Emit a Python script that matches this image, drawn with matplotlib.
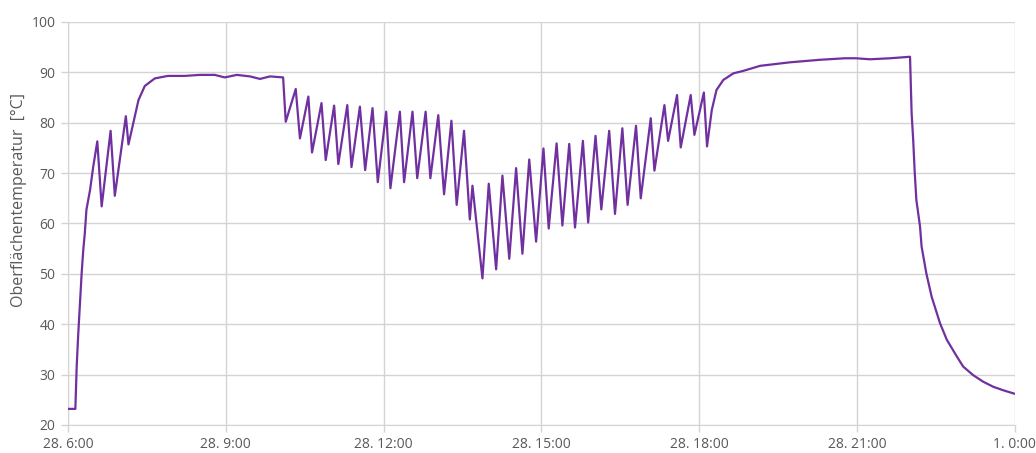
import matplotlib
matplotlib.use("Agg")
import matplotlib.pyplot as plt

# time in hours since 28. 0:00 (24 = 1. 0:00)
times = [
    6.00, 6.14, 6.165, 6.196, 6.26, 6.29, 6.32, 6.35, 6.42, 6.48, 6.557,
    6.64, 6.81, 6.89, 7.10, 7.15,
    7.34, 7.46, 7.65, 7.90, 8.22, 8.51, 8.79, 8.98, 9.21, 9.46, 9.65, 9.84, 10.09,
    10.14, 10.33, 10.41, 10.57, 10.64, 10.82, 10.90, 11.06, 11.14, 11.31, 11.39,
    11.55, 11.65, 11.79, 11.89, 12.05, 12.13, 12.31, 12.39, 12.55, 12.64, 12.80,
    12.89, 13.04, 13.15, 13.29, 13.39, 13.53, 13.64, 13.69, 13.88, 14.00, 14.14,
    14.26, 14.39, 14.52, 14.64, 14.77, 14.90, 15.04, 15.14, 15.29, 15.40, 15.53,
    15.64, 15.79, 15.89, 16.03, 16.14, 16.29, 16.40, 16.54, 16.64, 16.80, 16.89,
    17.08, 17.15, 17.34, 17.41, 17.58, 17.65, 17.84, 17.91, 18.09, 18.15, 18.24,
    18.33, 18.46, 18.65, 18.84, 19.16, 19.73, 20.30, 20.77, 20.98, 21.25, 21.63,
    22.01, 22.04, 22.07, 22.10, 22.13, 22.20, 22.23, 22.32, 22.42, 22.58, 22.71,
    22.90, 23.02, 23.21, 23.40, 23.59, 23.78, 24.00,
]
temps = [
    23.2, 23.2, 31.6, 38.3, 50.2, 54.7, 58.1, 62.7, 66.7, 71.3, 76.3,
    63.4, 78.4, 65.5, 81.3, 75.7,
    84.5, 87.3, 88.8, 89.3, 89.3, 89.5, 89.5, 89.0, 89.5, 89.2, 88.7, 89.2, 89.0,
    80.2, 86.7, 76.9, 85.2, 74.1, 83.9, 72.6, 83.4, 71.8, 83.5, 71.2,
    83.2, 70.6, 82.9, 68.2, 82.2, 67.0, 82.2, 68.2, 82.2, 69.0, 82.2,
    69.0, 81.5, 65.8, 80.4, 63.7, 78.4, 60.8, 67.5, 49.1, 67.9, 50.9,
    69.5, 53.0, 71.0, 54.0, 72.7, 56.4, 74.9, 59.0, 75.9, 59.6, 75.8,
    59.2, 76.4, 60.2, 77.4, 62.8, 78.4, 61.9, 78.9, 63.7, 79.4, 65.0,
    80.9, 70.5, 83.5, 76.4, 85.5, 75.1, 85.5, 77.6, 86.0, 75.3, 82.5,
    86.5, 88.5, 89.8, 90.3, 91.3, 92.0, 92.5, 92.8, 92.8, 92.6, 92.8,
    93.1, 81.9, 76.6, 70.0, 64.7, 59.4, 55.4, 50.1, 45.5, 40.2, 36.9,
    33.6, 31.6, 29.9, 28.6, 27.6, 26.9, 26.2,
]

x_ticks = [6, 9, 12, 15, 18, 21, 24]
x_tick_labels = ["28. 6:00", "28. 9:00", "28. 12:00", "28. 15:00",
                 "28. 18:00", "28. 21:00", "1. 0:00"]
y_ticks = [20, 30, 40, 50, 60, 70, 80, 90, 100]
y_label = "Oberflächentemperatur  [°C]"

plt.rcParams['font.family'] = ['Open Sans', 'DejaVu Sans']

fig = plt.figure(figsize=(10.36, 4.53), dpi=100)
ax = fig.add_axes([68 / 1036, 1 - 425 / 453, (1014.7 - 68) / 1036, (425 - 22) / 453])

grid_color = "#d4d4d4"
ax.plot(times, temps, color="#7030A0", linewidth=1.6, solid_joinstyle="round",
        solid_capstyle="round", zorder=3)

ax.set_xlim(6, 24)
ax.set_ylim(20, 100)
ax.set_xticks(x_ticks)
ax.set_xticklabels(x_tick_labels)
ax.set_yticks(y_ticks)
ax.grid(True, color=grid_color, linewidth=1.0)
ax.set_axisbelow(True)
for s in ax.spines.values():
    s.set_visible(False)
ax.spines['left'].set_visible(True)
ax.spines['left'].set_color(grid_color)
ax.spines['bottom'].set_visible(True)
ax.spines['bottom'].set_color(grid_color)
ax.tick_params(axis='both', colors=grid_color, labelcolor="#595959", labelsize=10,
               length=5, width=1.0)
ax.tick_params(axis='x', pad=4)
ax.tick_params(axis='y', pad=4)
ax.set_ylabel(y_label, color="#595959", fontsize=11.5)
ax.yaxis.set_label_coords(-0.043, 0.558)

fig.savefig("out.png", dpi=100)
